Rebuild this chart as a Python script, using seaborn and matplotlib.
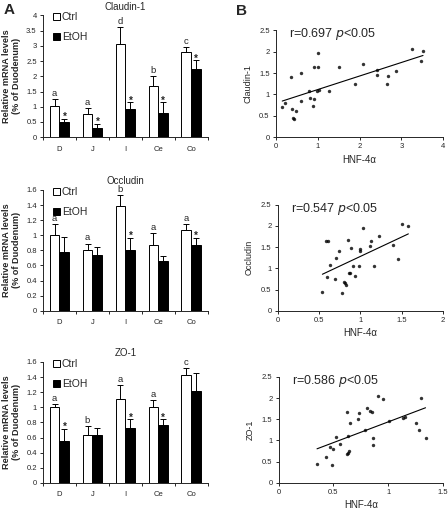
import numpy as np
import pandas as pd
import seaborn as sns
import matplotlib.pyplot as plt
from matplotlib.ticker import FuncFormatter, FixedLocator

sns.set_style('ticks')
plt.rcParams['font.family'] = ['Liberation Sans', 'DejaVu Sans']

segments = ['D', 'J', 'I', 'Ce', 'Co']

# bar panels (A): means and upper error
claudin_ctrl = [1.03, 0.77, 3.06, 1.68, 2.80]
claudin_ctrl_err = [0.23, 0.19, 0.55, 0.33, 0.16]
claudin_etoh = [0.50, 0.31, 0.91, 0.80, 2.23]
claudin_etoh_err = [0.11, 0.13, 0.23, 0.34, 0.29]
claudin_letters = ['a', 'a', 'd', 'b', 'c']
claudin_stars = [True, True, True, True, True]

occludin_ctrl = [1.00, 0.80, 1.39, 0.87, 1.07]
occludin_ctrl_err = [0.15, 0.09, 0.14, 0.16, 0.08]
occludin_etoh = [0.78, 0.74, 0.81, 0.66, 0.87]
occludin_etoh_err = [0.20, 0.10, 0.16, 0.07, 0.10]
occludin_letters = ['a', 'a', 'b', 'a', 'a']
occludin_stars = [False, False, True, False, True]

zo1_ctrl = [1.00, 0.63, 1.11, 1.00, 1.43]
zo1_ctrl_err = [0.04, 0.12, 0.18, 0.09, 0.09]
zo1_etoh = [0.56, 0.63, 0.72, 0.77, 1.21]
zo1_etoh_err = [0.15, 0.09, 0.12, 0.07, 0.25]
zo1_letters = ['a', 'b', 'a', 'a', 'c']
zo1_stars = [True, False, True, True, False]

# scatter panels (B)
claudin_hnf = [0.15, 0.22, 0.37, 0.39, 0.41, 0.44, 0.49, 0.61, 0.61, 0.79,
               0.81, 0.89, 0.92, 0.92, 1.00, 1.00, 0.99, 1.04, 1.28, 1.51,
               1.90, 2.09, 2.41, 2.42, 2.65, 2.67, 2.88, 3.25, 3.47, 3.52]
claudin_val = [0.70, 0.81, 1.40, 0.66, 0.46, 0.42, 0.62, 1.50, 0.84, 1.07,
               0.91, 0.74, 0.89, 1.65, 1.65, 1.96, 1.08, 1.10, 1.07, 1.65,
               1.25, 1.70, 1.56, 1.46, 1.24, 1.42, 1.55, 2.05, 1.79, 2.02]

occludin_hnf = [0.54, 0.58, 0.61, 0.60, 0.63, 0.69, 0.71, 0.74, 0.78, 0.80,
                0.81, 0.82, 0.85, 0.86, 0.88, 0.89, 0.91, 0.94, 0.98, 0.99,
                1.00, 1.03, 1.12, 1.13, 1.16, 1.22, 1.40, 1.45, 1.50, 1.58]
occludin_val = [0.44, 1.64, 1.64, 0.80, 1.09, 0.74, 1.25, 1.40, 0.41, 0.67,
                0.65, 0.61, 1.68, 0.90, 0.88, 1.48, 1.06, 0.82, 1.06, 1.46,
                1.40, 1.96, 1.53, 1.64, 1.05, 1.77, 1.54, 1.23, 2.04, 2.00]

zo1_hnf = [0.35, 0.43, 0.47, 0.50, 0.49, 0.52, 0.56, 0.62, 0.62, 0.63,
           0.64, 0.63, 0.65, 0.72, 0.73, 0.79, 0.81, 0.83, 0.85, 0.86,
           0.86, 0.91, 0.95, 1.01, 1.13, 1.15, 1.25, 1.28, 1.30, 1.34]
zo1_val = [0.44, 0.62, 0.84, 0.80, 0.42, 1.08, 0.91, 1.66, 0.67, 0.70,
           0.74, 1.11, 1.41, 1.50, 1.64, 1.25, 1.77, 1.70, 1.66, 1.06,
           0.89, 2.05, 1.97, 1.46, 1.54, 1.55, 1.41, 1.24, 2.00, 1.06]

fig = plt.figure(figsize=(4.48, 5.12), dpi=100)

fmt = FuncFormatter(lambda v, p: '%g' % round(v, 2))


def bar_panel(rect, title, ctrl, ctrl_err, etoh, etoh_err, letters, stars, ymax, ystep):
    ax = fig.add_axes(rect)
    df = pd.DataFrame({
        'seg': segments * 2,
        'group': ['Ctrl'] * 5 + ['EtOH'] * 5,
        'value': ctrl + etoh,
    })
    sns.barplot(data=df, x='seg', y='value', hue='group', order=segments,
                palette={'Ctrl': 'white', 'EtOH': 'black'}, edgecolor='black',
                linewidth=0.7, width=0.6, gap=0, errorbar=None, ax=ax)
    # upward error bars only
    for cont, err, vals in zip(ax.containers, [ctrl_err, etoh_err], [ctrl, etoh]):
        xs = [p.get_x() + p.get_width() / 2 for p in cont.patches]
        ax.errorbar(xs, vals, yerr=[np.zeros(5), err], fmt='none', ecolor='black',
                    elinewidth=0.7, capsize=2.2, capthick=0.7)
    xc = [p.get_x() + p.get_width() / 2 for p in ax.containers[0].patches]
    xe = [p.get_x() + p.get_width() / 2 for p in ax.containers[1].patches]
    for i in range(5):
        ax.text(xc[i], ctrl[i] + ctrl_err[i] + ymax * 0.01, letters[i], ha='center',
                va='bottom', fontsize=6.8, clip_on=False)
        if stars[i]:
            ax.text(xe[i], etoh[i] + etoh_err[i] - ymax * 0.025, '*', ha='center',
                    va='bottom', fontsize=7, fontweight='bold')
    ax.set_ylim(0, ymax)
    ax.set_xlim(-0.5, 4.5)
    ax.set_yticks(np.arange(0, ymax + ystep / 2, ystep))
    ax.yaxis.set_major_formatter(fmt)
    ax.tick_params(axis='y', labelsize=5.5, length=2.5, width=0.7, pad=2)
    ax.tick_params(axis='x', which='major', length=0, labelsize=5.5, pad=6)
    ax.xaxis.set_minor_locator(FixedLocator(np.arange(-0.5, 5, 1)))
    ax.tick_params(axis='x', which='minor', length=2.5, width=0.7)
    ax.set_xlabel('')
    ax.set_ylabel('Relative mRNA levels\n(% of Duodenum)', fontsize=6.6, fontweight='bold',
                  labelpad=4, linespacing=1.15)
    ax.set_title(title, fontsize=7, pad=4)
    for s in ['left', 'bottom']:
        ax.spines[s].set_linewidth(0.7)
    sns.despine(ax=ax)
    handles, labels = ax.get_legend_handles_labels()
    ax.legend(handles, labels, loc='upper left', bbox_to_anchor=(0.035, 1.06), frameon=False,
              fontsize=7.5, labelspacing=0.95, handlelength=0.65, handleheight=0.65,
              handletextpad=0.2, borderaxespad=0)
    return ax


def scatter_panel(rect, x, y, ylabel, xmax, xstep, rtext):
    ax = fig.add_axes(rect)
    sns.regplot(x=np.array(x), y=np.array(y), ci=None, ax=ax,
                scatter_kws={'s': 6, 'marker': 'D', 'color': 'black', 'linewidths': 0},
                line_kws={'color': 'black', 'linewidth': 0.8})
    ax.set_xlim(0, xmax)
    ax.set_ylim(0, 2.5)
    ax.set_xticks(np.arange(0, xmax + xstep / 2, xstep))
    ax.set_yticks(np.arange(0, 2.51, 0.5))
    ax.xaxis.set_major_formatter(fmt)
    ax.yaxis.set_major_formatter(fmt)
    ax.tick_params(labelsize=5.5, length=2.5, width=0.7, pad=2)
    ax.set_xlabel('HNF-4α', fontsize=7, labelpad=3)
    ax.set_ylabel(ylabel, fontsize=6.5, labelpad=5)
    for s in ['left', 'bottom']:
        ax.spines[s].set_linewidth(0.7)
    sns.despine(ax=ax)
    ax.text(0.08, 0.96, rtext, transform=ax.transAxes, ha='left', va='center', fontsize=9)
    return ax


bar_panel([0.096, 0.732, 0.368, 0.238], 'Claudin-1', claudin_ctrl, claudin_ctrl_err,
          claudin_etoh, claudin_etoh_err, claudin_letters, claudin_stars, 4, 0.5)
bar_panel([0.096, 0.393, 0.368, 0.236], 'Occludin', occludin_ctrl, occludin_ctrl_err,
          occludin_etoh, occludin_etoh_err, occludin_letters, occludin_stars, 1.6, 0.2)
bar_panel([0.096, 0.057, 0.368, 0.236], 'ZO-1', zo1_ctrl, zo1_ctrl_err,
          zo1_etoh, zo1_etoh_err, zo1_letters, zo1_stars, 1.6, 0.2)

scatter_panel([0.616, 0.732, 0.373, 0.209], claudin_hnf, claudin_val, 'Claudin-1', 4, 1,
              'r=0.697 $\\it{p}$<0.05')
scatter_panel([0.620, 0.393, 0.369, 0.207], occludin_hnf, occludin_val, 'Occludin', 2, 0.5,
              'r=0.547 $\\it{p}$<0.05')
scatter_panel([0.622, 0.057, 0.367, 0.207], zo1_hnf, zo1_val, 'ZO-1', 1.5, 0.5,
              'r=0.586 $\\it{p}$<0.05')

fig.text(0.007, 0.995, 'A', fontsize=11, fontweight='bold', ha='left', va='top')
fig.text(0.527, 0.992, 'B', fontsize=11, fontweight='bold', ha='left', va='top')

fig.savefig('out.png', dpi=100)
